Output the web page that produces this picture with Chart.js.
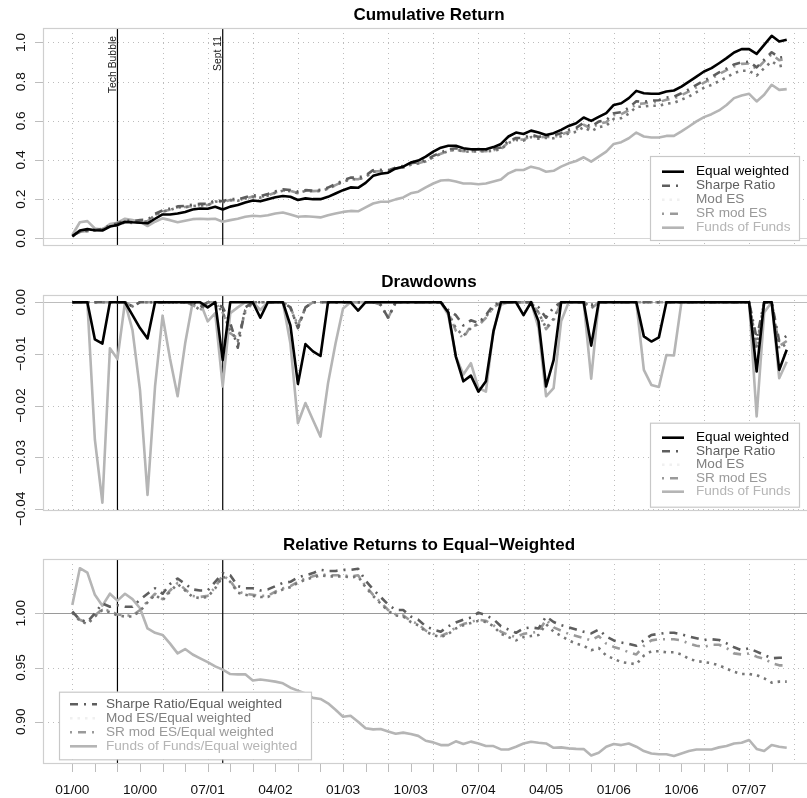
<!DOCTYPE html>
<html><head><meta charset="utf-8">
<script src="https://cdn.jsdelivr.net/npm/chart.js@4.4.0/dist/chart.umd.min.js"></script>
<style>
html,body{margin:0;padding:0;background:#fff;overflow:hidden;width:807px;height:798px;position:relative}
canvas{position:absolute;left:0}
</style></head><body>
<canvas id="c1" width="830" height="260" style="top:0px"></canvas>
<canvas id="c2" width="830" height="300" style="top:260px"></canvas>
<canvas id="c3" width="830" height="278" style="top:520px"></canvas>
<script>
// ---------- DATA (monthly, 01/2000 .. 12/2007, index 0..95) ----------
const tickLabels = ['01/00','10/00','07/01','04/02','01/03','10/03','07/04','04/05','01/06','10/06','07/07'];
const tickLabelIdx = [0,9,18,27,36,45,54,63,72,81,90];
const minorTickIdx = [0,3,6,9,12,15,18,21,24,27,30,33,36,39,42,45,48,51,54,57,60,63,66,69,72,75,78,81,84,87,90,93];
const vGridIdx = [0,6,12,18,24,30,36,42,48,54,60,66,72,78,84,90,96];
const eventIdx = [6, 20];
const eventLabels = ['Tech Bubble', 'Sept 11'];

const cumEW = [0.010,0.040,0.047,0.041,0.040,0.060,0.068,0.085,0.082,0.080,
0.077,0.100,0.122,0.122,0.127,0.135,0.147,0.152,0.151,0.161,
0.147,0.162,0.170,0.183,0.193,0.189,0.200,0.210,0.216,0.212,
0.196,0.204,0.200,0.200,0.212,0.229,0.246,0.260,0.258,0.283,
0.319,0.330,0.335,0.357,0.366,0.387,0.397,0.417,0.443,0.463,
0.473,0.473,0.460,0.455,0.455,0.455,0.466,0.482,0.520,0.540,
0.533,0.550,0.540,0.528,0.537,0.554,0.574,0.588,0.617,0.600,
0.620,0.639,0.681,0.690,0.716,0.753,0.741,0.738,0.738,0.750,
0.755,0.775,0.800,0.826,0.852,0.869,0.894,0.920,0.949,0.966,
0.966,0.942,0.988,1.034,1.005,1.014];
const cumSR = [0.012,0.034,0.039,0.043,0.048,0.066,0.076,0.092,0.088,0.094,
0.095,0.125,0.142,0.152,0.163,0.166,0.172,0.176,0.176,0.195,
0.189,0.202,0.199,0.210,0.220,0.215,0.226,0.240,0.250,0.247,
0.239,0.246,0.244,0.248,0.259,0.277,0.296,0.310,0.310,0.321,
0.348,0.350,0.346,0.361,0.370,0.383,0.389,0.400,0.421,0.438,
0.455,0.460,0.451,0.449,0.456,0.452,0.458,0.464,0.497,0.512,
0.512,0.530,0.518,0.523,0.525,0.537,0.554,0.564,0.590,0.570,
0.596,0.604,0.639,0.644,0.667,0.700,0.697,0.703,0.705,0.719,
0.723,0.741,0.761,0.784,0.806,0.824,0.847,0.867,0.888,0.899,
0.902,0.873,0.912,0.950,0.923,0.928];
const cumModES = [0.011,0.033,0.037,0.042,0.046,0.061,0.066,0.082,0.079,0.082,
0.086,0.119,0.136,0.145,0.158,0.159,0.164,0.168,0.169,0.188,
0.184,0.195,0.192,0.203,0.212,0.208,0.218,0.233,0.243,0.241,
0.230,0.242,0.240,0.242,0.253,0.271,0.289,0.302,0.301,0.314,
0.340,0.342,0.338,0.355,0.362,0.376,0.382,0.393,0.415,0.431,
0.445,0.453,0.444,0.442,0.445,0.444,0.448,0.454,0.487,0.502,
0.499,0.517,0.509,0.513,0.511,0.521,0.535,0.544,0.568,0.546,
0.568,0.575,0.610,0.614,0.637,0.671,0.673,0.677,0.677,0.687,
0.692,0.708,0.724,0.746,0.769,0.783,0.803,0.822,0.844,0.856,
0.856,0.831,0.869,0.904,0.879,0.887];
const cumSRModES = [0.012,0.034,0.038,0.043,0.047,0.062,0.067,0.083,0.080,0.083,
0.087,0.120,0.137,0.146,0.159,0.160,0.165,0.169,0.170,0.189,
0.185,0.196,0.193,0.204,0.213,0.209,0.219,0.234,0.244,0.242,
0.231,0.243,0.241,0.243,0.254,0.272,0.290,0.303,0.302,0.315,
0.341,0.343,0.339,0.356,0.363,0.377,0.383,0.394,0.416,0.432,
0.446,0.454,0.445,0.443,0.446,0.445,0.450,0.457,0.490,0.506,
0.504,0.522,0.514,0.519,0.517,0.529,0.544,0.555,0.580,0.560,
0.586,0.593,0.629,0.634,0.654,0.686,0.689,0.695,0.696,0.708,
0.713,0.731,0.750,0.771,0.795,0.815,0.839,0.859,0.877,0.891,
0.893,0.864,0.904,0.940,0.909,0.917];
const cumFoF = [0.017,0.082,0.088,0.050,0.045,0.073,0.080,0.100,0.093,0.085,
0.063,0.085,0.102,0.093,0.082,0.090,0.098,0.100,0.098,0.100,
0.085,0.093,0.100,0.110,0.115,0.113,0.118,0.127,0.132,0.122,
0.110,0.113,0.110,0.107,0.118,0.127,0.135,0.140,0.138,0.158,
0.178,0.187,0.187,0.199,0.209,0.230,0.238,0.260,0.280,0.295,
0.298,0.290,0.280,0.280,0.276,0.280,0.290,0.300,0.332,0.349,
0.349,0.366,0.357,0.340,0.345,0.366,0.383,0.395,0.414,0.392,
0.417,0.443,0.482,0.491,0.511,0.540,0.520,0.515,0.515,0.523,
0.523,0.546,0.571,0.597,0.619,0.634,0.653,0.681,0.716,0.729,
0.738,0.699,0.733,0.784,0.758,0.762];

const ddEW = [0,0,0,-0.0072,-0.008,0,0,0,-0.0025,-0.005,
-0.007,0,0,0,0,0,0,0,-0.001,0,
-0.0112,0,0,0,0,-0.003,0,0,0,-0.0045,
-0.0158,-0.0081,-0.0095,-0.0104,0,0,0,0,-0.0016,0,
0,0,0,0,0,0,0,0,0,0,
-0.002,-0.0105,-0.0153,-0.0142,-0.0173,-0.0153,-0.0057,0,0,0,
-0.0025,0,-0.0037,-0.0163,-0.0112,0,0,0,0,-0.0084,
0,0,0,0,0,0,-0.0066,-0.0076,-0.0068,0,
0,0,0,0,0,0,0,0,0,0,
0,-0.0134,0,0,-0.0131,-0.0092];
const ddSR = [0,0,0,0,0,0,0,0,-0.0008,0,
0,0,0,0,0,0,0,-0.001,0,0,
-0.001,-0.004,-0.0088,-0.001,0,0,0,0,0,-0.001,
-0.005,-0.001,0,0,0,0,0,0,0,0,
0,-0.0005,-0.003,0,0,0,0,0,0,0,
-0.0015,-0.0025,-0.0045,-0.0035,-0.004,-0.0025,-0.0005,0,0,0,
0,0,-0.001,-0.003,-0.001,0,0,0,0,-0.0005,
0,0,0,0,0,0,0,0,0,0,
0,0,0,0,0,0,0,0,0,0,
0,-0.007,0,0,-0.0075,-0.0065];
const ddModES = [0,0,0,0,0,0,0,0,-0.0008,0,
0,0,0,0,0,0,-0.0005,-0.0015,0,0,
-0.002,-0.0055,-0.0075,-0.0015,0,0,0,0,0,-0.001,
-0.005,-0.001,0,0,0,0,0,0,0,0,
0,-0.0005,-0.003,0,0,0,0,0,0,0,
-0.002,-0.005,-0.0065,-0.005,-0.0042,-0.0028,-0.001,0,0,0,
0,0,-0.002,-0.005,-0.0032,0,0,0,0,-0.001,
0,0,0,0,0,0,0,0,0,0,
0,0,0,0,0,0,0,0,0,0,
0,-0.0085,0,0,-0.009,-0.008];
const ddSRModES = [0,0,0,0,0,0,0,0,-0.0008,0,
0,0,0,0,0,0,-0.0005,-0.0015,0,0,
-0.002,-0.006,-0.007,-0.002,0,0,0,0,0,-0.001,
-0.0045,-0.001,0,0,0,0,0,0,0,0,
0,-0.0005,-0.003,0,0,0,0,0,0,0,
-0.002,-0.0055,-0.007,-0.0045,-0.0045,-0.003,-0.001,0,0,0,
0,0,-0.002,-0.0052,-0.0035,0,0,0,0,-0.0012,
0,0,0,0,0,0,0,0,0,0,
0,0,0,0,0,0,0,0,0,0,
0,-0.009,0,0,-0.0085,-0.0075];
const ddFoF = [0,0,0,-0.0266,-0.0388,-0.0089,-0.011,0,-0.0054,-0.017,
-0.0373,-0.0163,-0.0026,-0.011,-0.0182,-0.008,0,0,-0.0037,-0.0021,
-0.0163,-0.0021,-0.001,0,0,-0.0015,0,0,0,-0.008,
-0.0234,-0.0195,-0.0228,-0.026,-0.0157,-0.008,-0.0012,0,0,0,
0,0,0,0,0,0,0,0,0,0,
-0.0025,-0.0105,-0.014,-0.0118,-0.0166,-0.0173,-0.0054,-0.0005,0,0,
0,0,-0.005,-0.0182,-0.0166,-0.0037,0,0,0,-0.0148,
0,0,0,0,0,0,-0.0131,-0.016,-0.0164,-0.0102,
-0.0103,0,0,0,0,0,0,0,0,0,
0,-0.0221,-0.002,0,-0.0147,-0.0115];

const relSR = [1.0015,0.994,0.992,1.000,1.009,1.006,1.0075,1.006,1.006,1.0125,
1.018,1.023,1.018,1.027,1.032,1.027,1.022,1.021,1.021,1.029,
1.037,1.035,1.025,1.023,1.023,1.021,1.022,1.025,1.028,1.029,
1.033,1.035,1.037,1.040,1.039,1.039,1.040,1.040,1.041,1.030,
1.022,1.015,1.008,1.003,1.003,0.997,0.994,0.988,0.985,0.983,
0.988,0.9914,0.994,0.996,1.0006,0.998,0.9945,0.988,0.985,0.982,
0.986,0.987,0.986,0.997,0.992,0.989,0.987,0.985,0.983,0.9815,
0.985,0.9785,0.975,0.973,0.9717,0.970,0.975,0.980,0.981,0.982,
0.982,0.9806,0.9785,0.977,0.9754,0.976,0.9754,0.9723,0.9686,0.966,
0.9677,0.9646,0.9616,0.9585,0.959,0.959];
const relModES = [1.0005,0.993,0.990,0.997,1.003,1.001,0.998,0.997,0.997,1.002,
1.010,1.017,1.012,1.020,1.027,1.021,1.015,1.014,1.015,1.023,
1.034,1.029,1.019,1.017,1.016,1.015,1.015,1.019,1.022,1.024,
1.028,1.031,1.033,1.035,1.034,1.034,1.034,1.033,1.034,1.024,
1.016,1.009,1.002,0.998,0.997,0.992,0.989,0.983,0.980,0.978,
0.981,0.986,0.989,0.991,0.993,0.992,0.988,0.981,0.978,0.975,
0.978,0.979,0.980,0.990,0.983,0.979,0.975,0.972,0.970,0.966,
0.968,0.961,0.958,0.955,0.954,0.953,0.961,0.965,0.965,0.964,
0.964,0.962,0.958,0.956,0.955,0.954,0.952,0.949,0.946,0.944,
0.944,0.943,0.940,0.936,0.937,0.937];
const relSRModES = [1.0015,0.994,0.991,0.998,1.004,1.002,0.999,0.998,0.998,1.003,
1.011,1.018,1.013,1.021,1.028,1.022,1.016,1.015,1.016,1.024,
1.035,1.030,1.020,1.018,1.017,1.016,1.016,1.020,1.023,1.025,
1.029,1.032,1.034,1.036,1.035,1.035,1.035,1.034,1.035,1.025,
1.017,1.010,1.003,0.999,0.998,0.993,0.990,0.984,0.981,0.979,
0.982,0.987,0.990,0.992,0.994,0.993,0.989,0.983,0.980,0.978,
0.981,0.982,0.983,0.994,0.987,0.984,0.981,0.979,0.977,0.975,
0.979,0.972,0.969,0.967,0.964,0.962,0.970,0.975,0.976,0.976,
0.976,0.975,0.972,0.970,0.969,0.971,0.971,0.968,0.963,0.962,
0.963,0.960,0.958,0.954,0.952,0.952];
const relFoF = [1.0077,1.0415,1.0375,1.017,1.007,1.018,1.0116,1.018,1.013,1.0046,
0.986,0.982,0.980,0.972,0.963,0.967,0.962,0.9585,0.955,0.951,
0.948,0.944,0.9437,0.9437,0.938,0.939,0.938,0.937,0.9354,0.9314,
0.9287,0.926,0.922,0.921,0.917,0.911,0.9047,0.9056,0.900,0.894,
0.893,0.8933,0.891,0.889,0.890,0.8887,0.887,0.8825,0.881,0.8785,
0.8785,0.882,0.8795,0.8817,0.880,0.8776,0.8776,0.8745,0.8745,0.877,
0.880,0.8816,0.8807,0.880,0.876,0.8764,0.8755,0.875,0.8748,0.869,
0.8715,0.877,0.8795,0.8785,0.880,0.877,0.873,0.8708,0.870,0.870,
0.8684,0.8708,0.873,0.8745,0.8745,0.8745,0.8764,0.8776,0.880,0.8807,
0.8832,0.875,0.873,0.8785,0.877,0.876];

// ---------- STYLE ----------
const FONT = '"Liberation Sans", Arial, Helvetica, sans-serif';
const ST = {
  EW:   {color:'#000000', text:'#000000', dash:[], width:2.6},
  SR:   {color:'#5e5e5e', text:'#5e5e5e', dash:[8,6,2,6], width:2.6},
  MES:  {color:'#777777', text:'#7f7f7f', dash:[2.5,5], width:2.6},
  SRM:  {color:'#9a9a9a', text:'#9a9a9a', dash:[2,6,8,6], width:2.6},
  FoF:  {color:'#b5b5b5', text:'#b5b5b5', dash:[], width:2.6}
};

function decor(p) {
  return {
    id: 'decor' + p.id,
    beforeDatasetsDraw(chart) {
      const ctx = chart.ctx, a = chart.chartArea, xs = chart.scales.x, ys = chart.scales.y;
      ctx.save();
      ctx.strokeStyle = '#bdbdbd'; ctx.lineWidth = 1; ctx.setLineDash([1,4]);
      p.yTicks.forEach(v => { const y = Math.round(ys.getPixelForValue(v)) + 0.5;
        ctx.beginPath(); ctx.moveTo(a.left, y); ctx.lineTo(a.right, y); ctx.stroke(); });
      vGridIdx.forEach(i => { const x = Math.round(xs.getPixelForValue(i)) + 0.5;
        ctx.beginPath(); ctx.moveTo(x, a.top); ctx.lineTo(x, a.bottom); ctx.stroke(); });
      ctx.setLineDash([]);
      ctx.strokeStyle = p.refColor; ctx.lineWidth = 1;
      const yr = Math.round(ys.getPixelForValue(p.ref)) + 0.5;
      ctx.beginPath(); ctx.moveTo(a.left, yr); ctx.lineTo(a.right, yr); ctx.stroke();
      ctx.strokeStyle = '#000'; ctx.lineWidth = 1.2;
      eventIdx.forEach(i => { const x = xs.getPixelForValue(i);
        ctx.beginPath(); ctx.moveTo(x, a.top); ctx.lineTo(x, a.bottom); ctx.stroke(); });
      ctx.restore();
    },
    afterDatasetsDraw(chart) {
      const ctx = chart.ctx, a = chart.chartArea, xs = chart.scales.x, ys = chart.scales.y;
      ctx.save();
      ctx.strokeStyle = '#cfcfcf'; ctx.lineWidth = 1.2;
      ctx.strokeRect(a.left + 0.5, a.top + 0.5, a.right - a.left, a.bottom - a.top);
      ctx.fillStyle = '#000'; ctx.font = 'bold 17px ' + FONT;
      ctx.textAlign = 'center'; ctx.textBaseline = 'alphabetic';
      ctx.fillText(p.title, (a.left + a.right) / 2, p.titleY);
      ctx.strokeStyle = '#bdbdbd'; ctx.lineWidth = 1;
      ctx.font = '13.7px ' + FONT; ctx.fillStyle = '#111';
      p.yTicks.forEach((v, k) => {
        const y = ys.getPixelForValue(v);
        ctx.beginPath(); ctx.moveTo(a.left - 8, Math.round(y) + 0.5); ctx.lineTo(a.left, Math.round(y) + 0.5); ctx.stroke();
        ctx.save(); ctx.translate(25, y); ctx.rotate(-Math.PI / 2);
        ctx.textAlign = 'center'; ctx.textBaseline = 'alphabetic';
        ctx.fillText(p.yLabels[k], 0, 0); ctx.restore();
      });
      if (p.eventText) {
        ctx.font = '10.4px ' + FONT; ctx.fillStyle = '#222';
        eventIdx.forEach((i, k) => {
          const x = xs.getPixelForValue(i);
          ctx.save(); ctx.translate(x - 1.5, a.top + 8); ctx.rotate(-Math.PI / 2);
          ctx.textAlign = 'right'; ctx.textBaseline = 'alphabetic';
          ctx.fillText(eventLabels[k], 0, 0); ctx.restore();
        });
      }
      if (p.xAxis) {
        ctx.strokeStyle = '#bdbdbd'; ctx.lineWidth = 1;
        minorTickIdx.forEach(i => { const x = Math.round(xs.getPixelForValue(i)) + 0.5;
          ctx.beginPath(); ctx.moveTo(x, a.bottom + 1); ctx.lineTo(x, a.bottom + 9); ctx.stroke(); });
        ctx.fillStyle = '#111'; ctx.font = '13.7px ' + FONT;
        ctx.textAlign = 'center'; ctx.textBaseline = 'alphabetic';
        tickLabelIdx.forEach((i, k) => ctx.fillText(tickLabels[k], xs.getPixelForValue(i), a.bottom + 30.5));
      }
      const L = p.legend;
      ctx.fillStyle = '#fff'; ctx.fillRect(L.x, L.y, L.w, L.h);
      ctx.strokeStyle = '#c8c8c8'; ctx.lineWidth = 1.2;
      ctx.strokeRect(L.x + 0.5, L.y + 0.5, L.w, L.h);
      ctx.font = '13.6px ' + FONT; ctx.textAlign = 'left'; ctx.textBaseline = 'middle';
      L.items.forEach((it, k) => {
        const y = L.firstY + k * L.step;
        ctx.strokeStyle = it.st.legendLine || it.st.color; ctx.lineWidth = it.st.width;
        ctx.setLineDash(it.st.dash);
        ctx.beginPath(); ctx.moveTo(L.symX, y); ctx.lineTo(L.symX + L.symW, y); ctx.stroke();
        ctx.setLineDash([]);
        ctx.fillStyle = it.st.text; ctx.fillText(it.text, L.textX, y);
      });
      ctx.restore();
    }
  };
}

function makeChart(id, series, yMin, yMax, pad, p) {
  new Chart(document.getElementById(id), {
    type: 'line',
    data: { datasets: series.map(s => ({
      label: s.label,
      data: s.values.map((v, i) => ({x: i, y: v})),
      borderColor: s.st.color, borderWidth: s.st.width, borderDash: s.st.dash,
      pointRadius: 0, fill: false, tension: 0, borderCapStyle: 'butt', borderJoinStyle: 'round'
    })) },
    options: {
      responsive: false, animation: false, events: [],
      layout: { padding: pad },
      plugins: { legend: {display: false}, tooltip: {enabled: false}, title: {display: false} },
      scales: { x: {type: 'linear', min: -3.9, max: 98.76, display: false},
                y: {type: 'linear', min: yMin, max: yMax, display: false} }
    },
    plugins: [decor(p)]
  });
}

const MES_LEG = Object.assign({}, ST.MES, {legendLine: '#f0f0f0'});

makeChart('c1', [
  {label:'Equal weighted', values: cumEW, st: ST.EW},
  {label:'Sharpe Ratio', values: cumSR, st: ST.SR},
  {label:'Mod ES', values: cumModES, st: ST.MES},
  {label:'SR mod ES', values: cumSRModES, st: ST.SRM},
  {label:'Funds of Funds', values: cumFoF, st: ST.FoF}
], -0.034, 1.074, {left: 43, top: 28, right: 15, bottom: 15}, {
  id: 1, title: 'Cumulative Return', titleY: 20,
  yTicks: [0, 0.2, 0.4, 0.6, 0.8, 1.0], yLabels: ['0.0','0.2','0.4','0.6','0.8','1.0'],
  ref: 0, refColor: '#d6d6d6', eventText: true, xAxis: false,
  legend: {x: 650, y: 156, w: 149, h: 84, firstY: 171.7, step: 14, symX: 662, symW: 22, textX: 696,
    items: [{text:'Equal weighted', st: ST.EW}, {text:'Sharpe Ratio', st: ST.SR}, {text:'Mod ES', st: MES_LEG},
            {text:'SR mod ES', st: ST.SRM}, {text:'Funds of Funds', st: ST.FoF}]}
});

makeChart('c2', [
  {label:'Equal weighted', values: ddEW, st: ST.EW},
  {label:'Sharpe Ratio', values: ddSR, st: ST.SR},
  {label:'Mod ES', values: ddModES, st: ST.MES},
  {label:'SR mod ES', values: ddSRModES, st: ST.SRM},
  {label:'Funds of Funds', values: ddFoF, st: ST.FoF}
], -0.0402, 0.0014, {left: 43, top: 35, right: 15, bottom: 50}, {
  id: 2, title: 'Drawdowns', titleY: 26.7,
  yTicks: [0, -0.01, -0.02, -0.03, -0.04], yLabels: ['0.00','\u22120.01','\u22120.02','\u22120.03','\u22120.04'],
  ref: 0, refColor: '#bdbdbd', eventText: false, xAxis: false,
  legend: {x: 650, y: 162.7, w: 149, h: 84, firstY: 177.7, step: 13.5, symX: 662, symW: 22, textX: 696,
    items: [{text:'Equal weighted', st: ST.EW}, {text:'Sharpe Ratio', st: ST.SR}, {text:'Mod ES', st: MES_LEG},
            {text:'SR mod ES', st: ST.SRM}, {text:'Funds of Funds', st: ST.FoF}]}
});

makeChart('c3', [
  {label:'Sharpe Ratio/Equal weighted', values: relSR, st: ST.SR},
  {label:'Mod ES/Equal weighted', values: relModES, st: ST.MES},
  {label:'SR mod ES/Equal weighted', values: relSRModES, st: ST.SRM},
  {label:'Funds of Funds/Equal weighted', values: relFoF, st: ST.FoF}
], 0.862, 1.050, {left: 43, top: 39, right: 15, bottom: 35}, {
  id: 3, title: 'Relative Returns to Equal\u2212Weighted', titleY: 30,
  yTicks: [0.90, 0.95, 1.00], yLabels: ['0.90','0.95','1.00'],
  ref: 1.0, refColor: '#9a9a9a', eventText: false, xAxis: true,
  legend: {x: 59, y: 171.7, w: 252, h: 67.6, firstY: 184.3, step: 14, symX: 70, symW: 27, textX: 106,
    items: [{text:'Sharpe Ratio/Equal weighted', st: ST.SR}, {text:'Mod ES/Equal weighted', st: MES_LEG},
            {text:'SR mod ES/Equal weighted', st: ST.SRM}, {text:'Funds of Funds/Equal weighted', st: ST.FoF}]}
});
</script>
</body></html>
